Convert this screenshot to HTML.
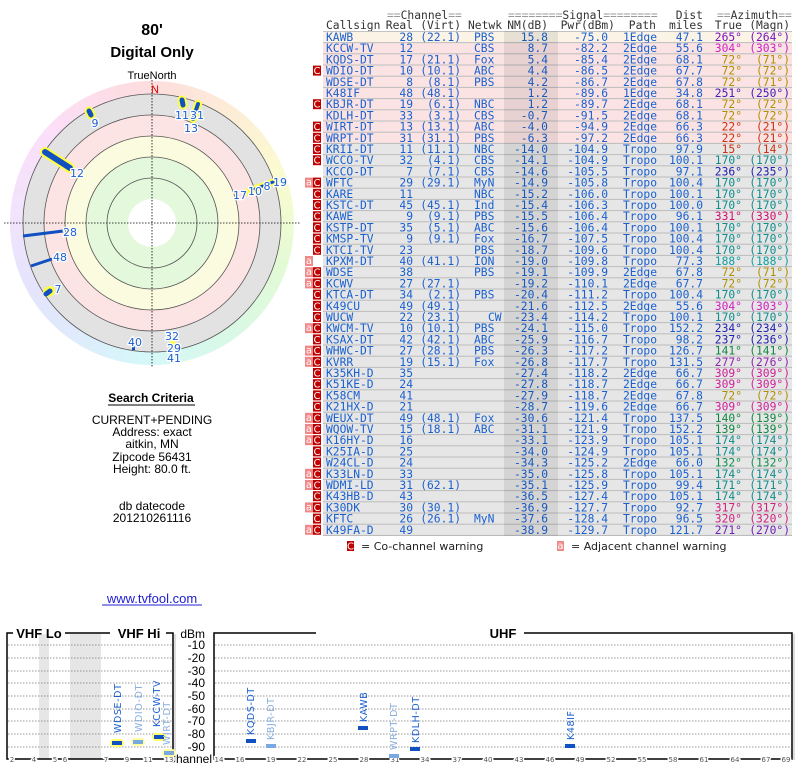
<!DOCTYPE html>
<html><head><meta charset="utf-8"><style>
body{margin:0;background:#fff;width:800px;height:768px;overflow:hidden;position:relative}
#cg{position:absolute;left:10px;top:81px;width:284px;height:284px;border-radius:50%;
background:conic-gradient(hsl(0,90%,93%),hsl(30,90%,92%) 30deg,hsl(60,85%,90%) 70deg,hsl(100,80%,91%) 110deg,hsl(150,70%,91%) 150deg,hsl(185,80%,91%) 185deg,hsl(215,80%,93%) 215deg,hsl(245,80%,94%) 245deg,hsl(275,80%,94%) 275deg,hsl(305,80%,93%) 310deg,hsl(340,90%,93%) 340deg,hsl(360,90%,93%))}
svg{position:absolute;left:0;top:0}
.m{font-family:"DejaVu Sans Mono","Liberation Mono",monospace;font-size:11.3px;fill:#1a60d0}
.s{font-family:"Liberation Sans",sans-serif}
.h{fill:#333}.g{fill:#999}
.c0{fill:#7a10c0}.c1{fill:#d020c0}.c2{fill:#b09000}.c3{fill:#4020b8}.c4{fill:#d03010}.c5{fill:#108c8c}.c6{fill:#2020b0}.c7{fill:#d01070}.c8{fill:#10a0a0}.c9{fill:#108840}.c10{fill:#9020b0}.c11{fill:#d02098}.c12{fill:#109050}.c13{fill:#d02080}.c14{fill:#7020b8}
.rp{fill:#fbe3e3}.rg{fill:#e6e6e6}.ry{fill:#fbf3e6}
.wc{fill:#c00000}.wa{fill:#f08a8a}
.wt{font-family:"DejaVu Sans",sans-serif;font-size:10px;fill:#fff}
.tk{font-family:"DejaVu Sans",sans-serif;font-size:7px;fill:#555;stroke:#fff;stroke-width:3px;paint-order:stroke}
.bl{font-family:"DejaVu Sans",sans-serif;font-size:9.5px;letter-spacing:0.6px}
.pl{font-family:"DejaVu Sans",sans-serif;font-size:11px;fill:#1a60d0;stroke:#fff;stroke-width:2.5px;paint-order:stroke}
</style></head><body>
<div id="cg"></div>
<svg width="800" height="768" viewBox="0 0 800 768">
<text x="152" y="35" text-anchor="middle" class="s" font-size="16" font-weight="bold">80'</text>
<text x="152" y="57" text-anchor="middle" class="s" font-size="15" font-weight="bold">Digital Only</text>
<text x="152" y="79" text-anchor="middle" class="s" font-size="11">TrueNorth</text>
<circle cx="152" cy="223" r="129" fill="#e2e2e2" stroke="#555" stroke-width="0.8"/>
<circle cx="152" cy="223" r="108" fill="#fde4e4" stroke="#555" stroke-width="0.8"/>
<circle cx="152" cy="223" r="87" fill="#fbfbe0" stroke="#555" stroke-width="0.8"/>
<circle cx="152" cy="223" r="66" fill="#e4f8dc" stroke="#555" stroke-width="0.8"/>
<circle cx="152" cy="223" r="45" fill="#e4f8dc" stroke="#555" stroke-width="0.8"/>
<circle cx="152" cy="223" r="24" fill="#fff"/>
<line x1="4" y1="223" x2="300" y2="223" stroke="#000" stroke-width="0.8" stroke-dasharray="1.5,1.5"/>
<line x1="152" y1="80" x2="152" y2="367" stroke="#000" stroke-width="0.8" stroke-dasharray="1.5,1.5"/>
<text x="155" y="93" text-anchor="middle" class="s" font-size="11" fill="#d00000">N</text>
<g stroke-linecap="round">
<line x1="89" y1="111" x2="91" y2="115" stroke="#ffff40" stroke-width="9"/>
<line x1="89" y1="111" x2="91" y2="115" stroke="#1050c0" stroke-width="5"/>
<line x1="182" y1="100" x2="183" y2="105" stroke="#ffff40" stroke-width="9"/>
<line x1="182" y1="100" x2="183" y2="105" stroke="#1050c0" stroke-width="5"/>
<line x1="198" y1="104" x2="193" y2="119" stroke="#ffff40" stroke-width="8"/>
<line x1="198" y1="104" x2="193" y2="119" stroke="#1050c0" stroke-width="4"/>
<line x1="45" y1="152" x2="70" y2="168" stroke="#ffff40" stroke-width="10"/>
<line x1="45" y1="152" x2="70" y2="168" stroke="#1050c0" stroke-width="6"/>
<line x1="247" y1="192" x2="273" y2="182" stroke="#ffff40" stroke-width="7"/>
<line x1="255" y1="189" x2="273" y2="182" stroke="#1050c0" stroke-width="3"/>
<line x1="48" y1="292" x2="50" y2="291" stroke="#ffff40" stroke-width="10"/>
<line x1="46" y1="294" x2="50" y2="291" stroke="#1050c0" stroke-width="5"/>
<line x1="172" y1="343" x2="173" y2="343" stroke="#ffff40" stroke-width="5"/>
</g>
<line x1="23" y1="236" x2="63" y2="231" stroke="#1050c0" stroke-width="3"/>
<line x1="31" y1="266" x2="52" y2="259" stroke="#1050c0" stroke-width="3"/>
<rect x="132" y="346" width="3" height="4" fill="#1050c0"/>
<text x="95" y="127" class="pl" text-anchor="middle">9</text>
<text x="182" y="119" class="pl" text-anchor="middle">11</text>
<text x="197" y="119" class="pl" text-anchor="middle">31</text>
<text x="191" y="132" class="pl" text-anchor="middle">13</text>
<text x="77" y="177" class="pl" text-anchor="middle">12</text>
<text x="240" y="199" class="pl" text-anchor="middle">17</text>
<text x="255" y="195" class="pl" text-anchor="middle">10</text>
<text x="267" y="190" class="pl" text-anchor="middle">8</text>
<text x="280" y="186" class="pl" text-anchor="middle">19</text>
<text x="70" y="236" class="pl" text-anchor="middle">28</text>
<text x="60" y="261" class="pl" text-anchor="middle">48</text>
<text x="58" y="293" class="pl" text-anchor="middle">7</text>
<text x="135" y="346" class="pl" text-anchor="middle">40</text>
<text x="172" y="340" class="pl" text-anchor="middle">32</text>
<text x="174" y="352" class="pl" text-anchor="middle">29</text>
<text x="174" y="362" class="pl" text-anchor="middle">41</text>
<text x="151" y="402" text-anchor="middle" class="s" font-size="12" font-weight="bold">Search Criteria</text>
<line x1="108" y1="405" x2="195" y2="405" stroke="#000" stroke-width="1"/>
<g class="s" font-size="12" text-anchor="middle">
<text x="152" y="424">CURRENT+PENDING</text>
<text x="152" y="436">Address: exact</text>
<text x="152" y="448">aitkin, MN</text>
<text x="152" y="461">Zipcode 56431</text>
<text x="152" y="473">Height: 80.0 ft.</text>
<text x="152" y="510">db datecode</text>
<text x="152" y="522">201210261116</text>
</g>
<text x="152" y="603" text-anchor="middle" class="s" font-size="13" fill="#2020d0">www.tvfool.com</text>
<line x1="102" y1="605" x2="202" y2="605" stroke="#2020d0" stroke-width="1"/>

<g class="m">
<text y="19"><tspan x="387" class="g">==</tspan><tspan class="h">Channel</tspan><tspan class="g">==</tspan></text>
<text y="19"><tspan x="508" class="g">========</tspan><tspan class="h">Signal</tspan><tspan class="g">========</tspan></text>
<text y="19" x="703" text-anchor="end" class="h">Dist</text>
<text y="19"><tspan x="717" class="g">==</tspan><tspan class="h">Azimuth</tspan><tspan class="g">==</tspan></text>
<text y="29" class="h"><tspan x="326">Callsign</tspan><tspan x="413" text-anchor="end">Real</tspan><tspan x="461" text-anchor="end">(Virt)</tspan><tspan x="468">Netwk</tspan><tspan x="548" text-anchor="end">NM(dB)</tspan><tspan x="615" text-anchor="end">Pwr(dBm)</tspan><tspan x="656" text-anchor="end">Path</tspan><tspan x="703" text-anchor="end">miles</tspan><tspan x="742" text-anchor="end">True</tspan><tspan x="790" text-anchor="end">(Magn)</tspan></text>
</g>
<rect x="323" y="31" width="469" height="505" fill="#bcbcbc"/>
<g class="m" id="rows">
<g transform="translate(0,37)"><rect x="323" y="-5.1" width="469" height="10.2" class="ry"/><text y="4"><tspan x="326">KAWB</tspan><tspan x="413" text-anchor="end">28</tspan><tspan x="461" text-anchor="end">(22.1)</tspan><tspan x="474">PBS</tspan><tspan x="548" text-anchor="end">15.8</tspan><tspan x="608" text-anchor="end">-75.0</tspan><tspan x="623">1Edge</tspan><tspan x="703" text-anchor="end">47.1</tspan><tspan x="742" text-anchor="end" class="c0">265°</tspan><tspan x="790" text-anchor="end" class="c0">(264°)</tspan></text></g>
<g transform="translate(0,48.2)"><rect x="323" y="-5.1" width="469" height="10.2" class="rp"/><text y="4"><tspan x="326">KCCW-TV</tspan><tspan x="413" text-anchor="end">12</tspan><tspan x="474">CBS</tspan><tspan x="548" text-anchor="end">8.7</tspan><tspan x="608" text-anchor="end">-82.2</tspan><tspan x="623">2Edge</tspan><tspan x="703" text-anchor="end">55.6</tspan><tspan x="742" text-anchor="end" class="c1">304°</tspan><tspan x="790" text-anchor="end" class="c1">(303°)</tspan></text></g>
<g transform="translate(0,59.4)"><rect x="323" y="-5.1" width="469" height="10.2" class="rp"/><text y="4"><tspan x="326">KQDS-DT</tspan><tspan x="413" text-anchor="end">17</tspan><tspan x="461" text-anchor="end">(21.1)</tspan><tspan x="474">Fox</tspan><tspan x="548" text-anchor="end">5.4</tspan><tspan x="608" text-anchor="end">-85.4</tspan><tspan x="623">2Edge</tspan><tspan x="703" text-anchor="end">68.1</tspan><tspan x="742" text-anchor="end" class="c2">72°</tspan><tspan x="790" text-anchor="end" class="c2">(71°)</tspan></text></g>
<g transform="translate(0,70.6)"><rect x="323" y="-5.1" width="469" height="10.2" class="rp"/><rect x="313" y="-5" width="8" height="10" class="wc"/><text x="317" y="3.5" class="wt" text-anchor="middle">C</text><text y="4"><tspan x="326">WDIO-DT</tspan><tspan x="413" text-anchor="end">10</tspan><tspan x="461" text-anchor="end">(10.1)</tspan><tspan x="474">ABC</tspan><tspan x="548" text-anchor="end">4.4</tspan><tspan x="608" text-anchor="end">-86.5</tspan><tspan x="623">2Edge</tspan><tspan x="703" text-anchor="end">67.7</tspan><tspan x="742" text-anchor="end" class="c2">72°</tspan><tspan x="790" text-anchor="end" class="c2">(72°)</tspan></text></g>
<g transform="translate(0,81.8)"><rect x="323" y="-5.1" width="469" height="10.2" class="rp"/><text y="4"><tspan x="326">WDSE-DT</tspan><tspan x="413" text-anchor="end">8</tspan><tspan x="461" text-anchor="end">(8.1)</tspan><tspan x="474">PBS</tspan><tspan x="548" text-anchor="end">4.2</tspan><tspan x="608" text-anchor="end">-86.7</tspan><tspan x="623">2Edge</tspan><tspan x="703" text-anchor="end">67.8</tspan><tspan x="742" text-anchor="end" class="c2">72°</tspan><tspan x="790" text-anchor="end" class="c2">(71°)</tspan></text></g>
<g transform="translate(0,93)"><rect x="323" y="-5.1" width="469" height="10.2" class="rp"/><text y="4"><tspan x="326">K48IF</tspan><tspan x="413" text-anchor="end">48</tspan><tspan x="461" text-anchor="end">(48.1)</tspan><tspan x="548" text-anchor="end">1.2</tspan><tspan x="608" text-anchor="end">-89.6</tspan><tspan x="623">1Edge</tspan><tspan x="703" text-anchor="end">34.8</tspan><tspan x="742" text-anchor="end" class="c3">251°</tspan><tspan x="790" text-anchor="end" class="c3">(250°)</tspan></text></g>
<g transform="translate(0,104.2)"><rect x="323" y="-5.1" width="469" height="10.2" class="rp"/><rect x="313" y="-5" width="8" height="10" class="wc"/><text x="317" y="3.5" class="wt" text-anchor="middle">C</text><text y="4"><tspan x="326">KBJR-DT</tspan><tspan x="413" text-anchor="end">19</tspan><tspan x="461" text-anchor="end">(6.1)</tspan><tspan x="474">NBC</tspan><tspan x="548" text-anchor="end">1.2</tspan><tspan x="608" text-anchor="end">-89.7</tspan><tspan x="623">2Edge</tspan><tspan x="703" text-anchor="end">68.1</tspan><tspan x="742" text-anchor="end" class="c2">72°</tspan><tspan x="790" text-anchor="end" class="c2">(72°)</tspan></text></g>
<g transform="translate(0,115.4)"><rect x="323" y="-5.1" width="469" height="10.2" class="rp"/><text y="4"><tspan x="326">KDLH-DT</tspan><tspan x="413" text-anchor="end">33</tspan><tspan x="461" text-anchor="end">(3.1)</tspan><tspan x="474">CBS</tspan><tspan x="548" text-anchor="end">-0.7</tspan><tspan x="608" text-anchor="end">-91.5</tspan><tspan x="623">2Edge</tspan><tspan x="703" text-anchor="end">68.1</tspan><tspan x="742" text-anchor="end" class="c2">72°</tspan><tspan x="790" text-anchor="end" class="c2">(72°)</tspan></text></g>
<g transform="translate(0,126.6)"><rect x="323" y="-5.1" width="469" height="10.2" class="rp"/><rect x="313" y="-5" width="8" height="10" class="wc"/><text x="317" y="3.5" class="wt" text-anchor="middle">C</text><text y="4"><tspan x="326">WIRT-DT</tspan><tspan x="413" text-anchor="end">13</tspan><tspan x="461" text-anchor="end">(13.1)</tspan><tspan x="474">ABC</tspan><tspan x="548" text-anchor="end">-4.0</tspan><tspan x="608" text-anchor="end">-94.9</tspan><tspan x="623">2Edge</tspan><tspan x="703" text-anchor="end">66.3</tspan><tspan x="742" text-anchor="end" class="c4">22°</tspan><tspan x="790" text-anchor="end" class="c4">(21°)</tspan></text></g>
<g transform="translate(0,137.8)"><rect x="323" y="-5.1" width="469" height="10.2" class="rp"/><rect x="313" y="-5" width="8" height="10" class="wc"/><text x="317" y="3.5" class="wt" text-anchor="middle">C</text><text y="4"><tspan x="326">WRPT-DT</tspan><tspan x="413" text-anchor="end">31</tspan><tspan x="461" text-anchor="end">(31.1)</tspan><tspan x="474">PBS</tspan><tspan x="548" text-anchor="end">-6.3</tspan><tspan x="608" text-anchor="end">-97.2</tspan><tspan x="623">2Edge</tspan><tspan x="703" text-anchor="end">66.3</tspan><tspan x="742" text-anchor="end" class="c4">22°</tspan><tspan x="790" text-anchor="end" class="c4">(21°)</tspan></text></g>
<g transform="translate(0,149)"><rect x="323" y="-5.1" width="469" height="10.2" class="rg"/><rect x="313" y="-5" width="8" height="10" class="wc"/><text x="317" y="3.5" class="wt" text-anchor="middle">C</text><text y="4"><tspan x="326">KRII-DT</tspan><tspan x="413" text-anchor="end">11</tspan><tspan x="461" text-anchor="end">(11.1)</tspan><tspan x="474">NBC</tspan><tspan x="548" text-anchor="end">-14.0</tspan><tspan x="608" text-anchor="end">-104.9</tspan><tspan x="623">Tropo</tspan><tspan x="703" text-anchor="end">97.9</tspan><tspan x="742" text-anchor="end" class="c4">15°</tspan><tspan x="790" text-anchor="end" class="c4">(14°)</tspan></text></g>
<g transform="translate(0,160.2)"><rect x="323" y="-5.1" width="469" height="10.2" class="rg"/><rect x="313" y="-5" width="8" height="10" class="wc"/><text x="317" y="3.5" class="wt" text-anchor="middle">C</text><text y="4"><tspan x="326">WCCO-TV</tspan><tspan x="413" text-anchor="end">32</tspan><tspan x="461" text-anchor="end">(4.1)</tspan><tspan x="474">CBS</tspan><tspan x="548" text-anchor="end">-14.1</tspan><tspan x="608" text-anchor="end">-104.9</tspan><tspan x="623">Tropo</tspan><tspan x="703" text-anchor="end">100.1</tspan><tspan x="742" text-anchor="end" class="c5">170°</tspan><tspan x="790" text-anchor="end" class="c5">(170°)</tspan></text></g>
<g transform="translate(0,171.4)"><rect x="323" y="-5.1" width="469" height="10.2" class="rg"/><text y="4"><tspan x="326">KCCO-DT</tspan><tspan x="413" text-anchor="end">7</tspan><tspan x="461" text-anchor="end">(7.1)</tspan><tspan x="474">CBS</tspan><tspan x="548" text-anchor="end">-14.6</tspan><tspan x="608" text-anchor="end">-105.5</tspan><tspan x="623">Tropo</tspan><tspan x="703" text-anchor="end">97.1</tspan><tspan x="742" text-anchor="end" class="c6">236°</tspan><tspan x="790" text-anchor="end" class="c6">(235°)</tspan></text></g>
<g transform="translate(0,182.6)"><rect x="323" y="-5.1" width="469" height="10.2" class="rg"/><rect x="305" y="-5" width="8" height="10" class="wa"/><text x="309" y="3" class="wt" text-anchor="middle">a</text><rect x="313" y="-5" width="8" height="10" class="wc"/><text x="317" y="3.5" class="wt" text-anchor="middle">C</text><text y="4"><tspan x="326">WFTC</tspan><tspan x="413" text-anchor="end">29</tspan><tspan x="461" text-anchor="end">(29.1)</tspan><tspan x="474">MyN</tspan><tspan x="548" text-anchor="end">-14.9</tspan><tspan x="608" text-anchor="end">-105.8</tspan><tspan x="623">Tropo</tspan><tspan x="703" text-anchor="end">100.4</tspan><tspan x="742" text-anchor="end" class="c5">170°</tspan><tspan x="790" text-anchor="end" class="c5">(170°)</tspan></text></g>
<g transform="translate(0,193.8)"><rect x="323" y="-5.1" width="469" height="10.2" class="rg"/><rect x="313" y="-5" width="8" height="10" class="wc"/><text x="317" y="3.5" class="wt" text-anchor="middle">C</text><text y="4"><tspan x="326">KARE</tspan><tspan x="413" text-anchor="end">11</tspan><tspan x="474">NBC</tspan><tspan x="548" text-anchor="end">-15.2</tspan><tspan x="608" text-anchor="end">-106.0</tspan><tspan x="623">Tropo</tspan><tspan x="703" text-anchor="end">100.1</tspan><tspan x="742" text-anchor="end" class="c5">170°</tspan><tspan x="790" text-anchor="end" class="c5">(170°)</tspan></text></g>
<g transform="translate(0,205)"><rect x="323" y="-5.1" width="469" height="10.2" class="rg"/><rect x="313" y="-5" width="8" height="10" class="wc"/><text x="317" y="3.5" class="wt" text-anchor="middle">C</text><text y="4"><tspan x="326">KSTC-DT</tspan><tspan x="413" text-anchor="end">45</tspan><tspan x="461" text-anchor="end">(45.1)</tspan><tspan x="474">Ind</tspan><tspan x="548" text-anchor="end">-15.4</tspan><tspan x="608" text-anchor="end">-106.3</tspan><tspan x="623">Tropo</tspan><tspan x="703" text-anchor="end">100.0</tspan><tspan x="742" text-anchor="end" class="c5">170°</tspan><tspan x="790" text-anchor="end" class="c5">(170°)</tspan></text></g>
<g transform="translate(0,216.2)"><rect x="323" y="-5.1" width="469" height="10.2" class="rg"/><rect x="313" y="-5" width="8" height="10" class="wc"/><text x="317" y="3.5" class="wt" text-anchor="middle">C</text><text y="4"><tspan x="326">KAWE</tspan><tspan x="413" text-anchor="end">9</tspan><tspan x="461" text-anchor="end">(9.1)</tspan><tspan x="474">PBS</tspan><tspan x="548" text-anchor="end">-15.5</tspan><tspan x="608" text-anchor="end">-106.4</tspan><tspan x="623">Tropo</tspan><tspan x="703" text-anchor="end">96.1</tspan><tspan x="742" text-anchor="end" class="c7">331°</tspan><tspan x="790" text-anchor="end" class="c7">(330°)</tspan></text></g>
<g transform="translate(0,227.4)"><rect x="323" y="-5.1" width="469" height="10.2" class="rg"/><rect x="313" y="-5" width="8" height="10" class="wc"/><text x="317" y="3.5" class="wt" text-anchor="middle">C</text><text y="4"><tspan x="326">KSTP-DT</tspan><tspan x="413" text-anchor="end">35</tspan><tspan x="461" text-anchor="end">(5.1)</tspan><tspan x="474">ABC</tspan><tspan x="548" text-anchor="end">-15.6</tspan><tspan x="608" text-anchor="end">-106.4</tspan><tspan x="623">Tropo</tspan><tspan x="703" text-anchor="end">100.1</tspan><tspan x="742" text-anchor="end" class="c5">170°</tspan><tspan x="790" text-anchor="end" class="c5">(170°)</tspan></text></g>
<g transform="translate(0,238.6)"><rect x="323" y="-5.1" width="469" height="10.2" class="rg"/><rect x="313" y="-5" width="8" height="10" class="wc"/><text x="317" y="3.5" class="wt" text-anchor="middle">C</text><text y="4"><tspan x="326">KMSP-TV</tspan><tspan x="413" text-anchor="end">9</tspan><tspan x="461" text-anchor="end">(9.1)</tspan><tspan x="474">Fox</tspan><tspan x="548" text-anchor="end">-16.7</tspan><tspan x="608" text-anchor="end">-107.5</tspan><tspan x="623">Tropo</tspan><tspan x="703" text-anchor="end">100.4</tspan><tspan x="742" text-anchor="end" class="c5">170°</tspan><tspan x="790" text-anchor="end" class="c5">(170°)</tspan></text></g>
<g transform="translate(0,249.8)"><rect x="323" y="-5.1" width="469" height="10.2" class="rg"/><rect x="313" y="-5" width="8" height="10" class="wc"/><text x="317" y="3.5" class="wt" text-anchor="middle">C</text><text y="4"><tspan x="326">KTCI-TV</tspan><tspan x="413" text-anchor="end">23</tspan><tspan x="474">PBS</tspan><tspan x="548" text-anchor="end">-18.7</tspan><tspan x="608" text-anchor="end">-109.6</tspan><tspan x="623">Tropo</tspan><tspan x="703" text-anchor="end">100.4</tspan><tspan x="742" text-anchor="end" class="c5">170°</tspan><tspan x="790" text-anchor="end" class="c5">(170°)</tspan></text></g>
<g transform="translate(0,261)"><rect x="323" y="-5.1" width="469" height="10.2" class="rg"/><rect x="305" y="-5" width="8" height="10" class="wa"/><text x="309" y="3" class="wt" text-anchor="middle">a</text><text y="4"><tspan x="326">KPXM-DT</tspan><tspan x="413" text-anchor="end">40</tspan><tspan x="461" text-anchor="end">(41.1)</tspan><tspan x="474">ION</tspan><tspan x="548" text-anchor="end">-19.0</tspan><tspan x="608" text-anchor="end">-109.8</tspan><tspan x="623">Tropo</tspan><tspan x="703" text-anchor="end">77.3</tspan><tspan x="742" text-anchor="end" class="c8">188°</tspan><tspan x="790" text-anchor="end" class="c8">(188°)</tspan></text></g>
<g transform="translate(0,272.2)"><rect x="323" y="-5.1" width="469" height="10.2" class="rg"/><rect x="305" y="-5" width="8" height="10" class="wa"/><text x="309" y="3" class="wt" text-anchor="middle">a</text><rect x="313" y="-5" width="8" height="10" class="wc"/><text x="317" y="3.5" class="wt" text-anchor="middle">C</text><text y="4"><tspan x="326">WDSE</tspan><tspan x="413" text-anchor="end">38</tspan><tspan x="474">PBS</tspan><tspan x="548" text-anchor="end">-19.1</tspan><tspan x="608" text-anchor="end">-109.9</tspan><tspan x="623">2Edge</tspan><tspan x="703" text-anchor="end">67.8</tspan><tspan x="742" text-anchor="end" class="c2">72°</tspan><tspan x="790" text-anchor="end" class="c2">(71°)</tspan></text></g>
<g transform="translate(0,283.4)"><rect x="323" y="-5.1" width="469" height="10.2" class="rg"/><rect x="305" y="-5" width="8" height="10" class="wa"/><text x="309" y="3" class="wt" text-anchor="middle">a</text><rect x="313" y="-5" width="8" height="10" class="wc"/><text x="317" y="3.5" class="wt" text-anchor="middle">C</text><text y="4"><tspan x="326">KCWV</tspan><tspan x="413" text-anchor="end">27</tspan><tspan x="461" text-anchor="end">(27.1)</tspan><tspan x="548" text-anchor="end">-19.2</tspan><tspan x="608" text-anchor="end">-110.1</tspan><tspan x="623">2Edge</tspan><tspan x="703" text-anchor="end">67.7</tspan><tspan x="742" text-anchor="end" class="c2">72°</tspan><tspan x="790" text-anchor="end" class="c2">(72°)</tspan></text></g>
<g transform="translate(0,294.6)"><rect x="323" y="-5.1" width="469" height="10.2" class="rg"/><rect x="313" y="-5" width="8" height="10" class="wc"/><text x="317" y="3.5" class="wt" text-anchor="middle">C</text><text y="4"><tspan x="326">KTCA-DT</tspan><tspan x="413" text-anchor="end">34</tspan><tspan x="461" text-anchor="end">(2.1)</tspan><tspan x="474">PBS</tspan><tspan x="548" text-anchor="end">-20.4</tspan><tspan x="608" text-anchor="end">-111.2</tspan><tspan x="623">Tropo</tspan><tspan x="703" text-anchor="end">100.4</tspan><tspan x="742" text-anchor="end" class="c5">170°</tspan><tspan x="790" text-anchor="end" class="c5">(170°)</tspan></text></g>
<g transform="translate(0,305.8)"><rect x="323" y="-5.1" width="469" height="10.2" class="rg"/><rect x="313" y="-5" width="8" height="10" class="wc"/><text x="317" y="3.5" class="wt" text-anchor="middle">C</text><text y="4"><tspan x="326">K49CU</tspan><tspan x="413" text-anchor="end">49</tspan><tspan x="461" text-anchor="end">(49.1)</tspan><tspan x="548" text-anchor="end">-21.6</tspan><tspan x="608" text-anchor="end">-112.5</tspan><tspan x="623">2Edge</tspan><tspan x="703" text-anchor="end">55.6</tspan><tspan x="742" text-anchor="end" class="c1">304°</tspan><tspan x="790" text-anchor="end" class="c1">(303°)</tspan></text></g>
<g transform="translate(0,317)"><rect x="323" y="-5.1" width="469" height="10.2" class="rg"/><rect x="313" y="-5" width="8" height="10" class="wc"/><text x="317" y="3.5" class="wt" text-anchor="middle">C</text><text y="4"><tspan x="326">WUCW</tspan><tspan x="413" text-anchor="end">22</tspan><tspan x="461" text-anchor="end">(23.1)</tspan><tspan x="488">CW</tspan><tspan x="548" text-anchor="end">-23.4</tspan><tspan x="608" text-anchor="end">-114.2</tspan><tspan x="623">Tropo</tspan><tspan x="703" text-anchor="end">100.1</tspan><tspan x="742" text-anchor="end" class="c5">170°</tspan><tspan x="790" text-anchor="end" class="c5">(170°)</tspan></text></g>
<g transform="translate(0,328.2)"><rect x="323" y="-5.1" width="469" height="10.2" class="rg"/><rect x="305" y="-5" width="8" height="10" class="wa"/><text x="309" y="3" class="wt" text-anchor="middle">a</text><rect x="313" y="-5" width="8" height="10" class="wc"/><text x="317" y="3.5" class="wt" text-anchor="middle">C</text><text y="4"><tspan x="326">KWCM-TV</tspan><tspan x="413" text-anchor="end">10</tspan><tspan x="461" text-anchor="end">(10.1)</tspan><tspan x="474">PBS</tspan><tspan x="548" text-anchor="end">-24.1</tspan><tspan x="608" text-anchor="end">-115.0</tspan><tspan x="623">Tropo</tspan><tspan x="703" text-anchor="end">152.2</tspan><tspan x="742" text-anchor="end" class="c6">234°</tspan><tspan x="790" text-anchor="end" class="c6">(234°)</tspan></text></g>
<g transform="translate(0,339.4)"><rect x="323" y="-5.1" width="469" height="10.2" class="rg"/><rect x="313" y="-5" width="8" height="10" class="wc"/><text x="317" y="3.5" class="wt" text-anchor="middle">C</text><text y="4"><tspan x="326">KSAX-DT</tspan><tspan x="413" text-anchor="end">42</tspan><tspan x="461" text-anchor="end">(42.1)</tspan><tspan x="474">ABC</tspan><tspan x="548" text-anchor="end">-25.9</tspan><tspan x="608" text-anchor="end">-116.7</tspan><tspan x="623">Tropo</tspan><tspan x="703" text-anchor="end">98.2</tspan><tspan x="742" text-anchor="end" class="c6">237°</tspan><tspan x="790" text-anchor="end" class="c6">(236°)</tspan></text></g>
<g transform="translate(0,350.6)"><rect x="323" y="-5.1" width="469" height="10.2" class="rg"/><rect x="305" y="-5" width="8" height="10" class="wa"/><text x="309" y="3" class="wt" text-anchor="middle">a</text><rect x="313" y="-5" width="8" height="10" class="wc"/><text x="317" y="3.5" class="wt" text-anchor="middle">C</text><text y="4"><tspan x="326">WHWC-DT</tspan><tspan x="413" text-anchor="end">27</tspan><tspan x="461" text-anchor="end">(28.1)</tspan><tspan x="474">PBS</tspan><tspan x="548" text-anchor="end">-26.3</tspan><tspan x="608" text-anchor="end">-117.2</tspan><tspan x="623">Tropo</tspan><tspan x="703" text-anchor="end">126.7</tspan><tspan x="742" text-anchor="end" class="c9">141°</tspan><tspan x="790" text-anchor="end" class="c9">(141°)</tspan></text></g>
<g transform="translate(0,361.8)"><rect x="323" y="-5.1" width="469" height="10.2" class="rg"/><rect x="305" y="-5" width="8" height="10" class="wa"/><text x="309" y="3" class="wt" text-anchor="middle">a</text><rect x="313" y="-5" width="8" height="10" class="wc"/><text x="317" y="3.5" class="wt" text-anchor="middle">C</text><text y="4"><tspan x="326">KVRR</tspan><tspan x="413" text-anchor="end">19</tspan><tspan x="461" text-anchor="end">(15.1)</tspan><tspan x="474">Fox</tspan><tspan x="548" text-anchor="end">-26.8</tspan><tspan x="608" text-anchor="end">-117.7</tspan><tspan x="623">Tropo</tspan><tspan x="703" text-anchor="end">131.5</tspan><tspan x="742" text-anchor="end" class="c10">277°</tspan><tspan x="790" text-anchor="end" class="c10">(276°)</tspan></text></g>
<g transform="translate(0,373)"><rect x="323" y="-5.1" width="469" height="10.2" class="rg"/><rect x="313" y="-5" width="8" height="10" class="wc"/><text x="317" y="3.5" class="wt" text-anchor="middle">C</text><text y="4"><tspan x="326">K35KH-D</tspan><tspan x="413" text-anchor="end">35</tspan><tspan x="548" text-anchor="end">-27.4</tspan><tspan x="608" text-anchor="end">-118.2</tspan><tspan x="623">2Edge</tspan><tspan x="703" text-anchor="end">66.7</tspan><tspan x="742" text-anchor="end" class="c11">309°</tspan><tspan x="790" text-anchor="end" class="c11">(309°)</tspan></text></g>
<g transform="translate(0,384.2)"><rect x="323" y="-5.1" width="469" height="10.2" class="rg"/><rect x="313" y="-5" width="8" height="10" class="wc"/><text x="317" y="3.5" class="wt" text-anchor="middle">C</text><text y="4"><tspan x="326">K51KE-D</tspan><tspan x="413" text-anchor="end">24</tspan><tspan x="548" text-anchor="end">-27.8</tspan><tspan x="608" text-anchor="end">-118.7</tspan><tspan x="623">2Edge</tspan><tspan x="703" text-anchor="end">66.7</tspan><tspan x="742" text-anchor="end" class="c11">309°</tspan><tspan x="790" text-anchor="end" class="c11">(309°)</tspan></text></g>
<g transform="translate(0,395.4)"><rect x="323" y="-5.1" width="469" height="10.2" class="rg"/><rect x="313" y="-5" width="8" height="10" class="wc"/><text x="317" y="3.5" class="wt" text-anchor="middle">C</text><text y="4"><tspan x="326">K58CM</tspan><tspan x="413" text-anchor="end">41</tspan><tspan x="548" text-anchor="end">-27.9</tspan><tspan x="608" text-anchor="end">-118.7</tspan><tspan x="623">2Edge</tspan><tspan x="703" text-anchor="end">67.8</tspan><tspan x="742" text-anchor="end" class="c2">72°</tspan><tspan x="790" text-anchor="end" class="c2">(72°)</tspan></text></g>
<g transform="translate(0,406.6)"><rect x="323" y="-5.1" width="469" height="10.2" class="rg"/><rect x="313" y="-5" width="8" height="10" class="wc"/><text x="317" y="3.5" class="wt" text-anchor="middle">C</text><text y="4"><tspan x="326">K21HX-D</tspan><tspan x="413" text-anchor="end">21</tspan><tspan x="548" text-anchor="end">-28.7</tspan><tspan x="608" text-anchor="end">-119.6</tspan><tspan x="623">2Edge</tspan><tspan x="703" text-anchor="end">66.7</tspan><tspan x="742" text-anchor="end" class="c11">309°</tspan><tspan x="790" text-anchor="end" class="c11">(309°)</tspan></text></g>
<g transform="translate(0,417.8)"><rect x="323" y="-5.1" width="469" height="10.2" class="rg"/><rect x="305" y="-5" width="8" height="10" class="wa"/><text x="309" y="3" class="wt" text-anchor="middle">a</text><rect x="313" y="-5" width="8" height="10" class="wc"/><text x="317" y="3.5" class="wt" text-anchor="middle">C</text><text y="4"><tspan x="326">WEUX-DT</tspan><tspan x="413" text-anchor="end">49</tspan><tspan x="461" text-anchor="end">(48.1)</tspan><tspan x="474">Fox</tspan><tspan x="548" text-anchor="end">-30.6</tspan><tspan x="608" text-anchor="end">-121.4</tspan><tspan x="623">Tropo</tspan><tspan x="703" text-anchor="end">137.5</tspan><tspan x="742" text-anchor="end" class="c9">140°</tspan><tspan x="790" text-anchor="end" class="c9">(139°)</tspan></text></g>
<g transform="translate(0,429)"><rect x="323" y="-5.1" width="469" height="10.2" class="rg"/><rect x="305" y="-5" width="8" height="10" class="wa"/><text x="309" y="3" class="wt" text-anchor="middle">a</text><rect x="313" y="-5" width="8" height="10" class="wc"/><text x="317" y="3.5" class="wt" text-anchor="middle">C</text><text y="4"><tspan x="326">WQOW-TV</tspan><tspan x="413" text-anchor="end">15</tspan><tspan x="461" text-anchor="end">(18.1)</tspan><tspan x="474">ABC</tspan><tspan x="548" text-anchor="end">-31.1</tspan><tspan x="608" text-anchor="end">-121.9</tspan><tspan x="623">Tropo</tspan><tspan x="703" text-anchor="end">152.2</tspan><tspan x="742" text-anchor="end" class="c9">139°</tspan><tspan x="790" text-anchor="end" class="c9">(139°)</tspan></text></g>
<g transform="translate(0,440.2)"><rect x="323" y="-5.1" width="469" height="10.2" class="rg"/><rect x="305" y="-5" width="8" height="10" class="wa"/><text x="309" y="3" class="wt" text-anchor="middle">a</text><rect x="313" y="-5" width="8" height="10" class="wc"/><text x="317" y="3.5" class="wt" text-anchor="middle">C</text><text y="4"><tspan x="326">K16HY-D</tspan><tspan x="413" text-anchor="end">16</tspan><tspan x="548" text-anchor="end">-33.1</tspan><tspan x="608" text-anchor="end">-123.9</tspan><tspan x="623">Tropo</tspan><tspan x="703" text-anchor="end">105.1</tspan><tspan x="742" text-anchor="end" class="c5">174°</tspan><tspan x="790" text-anchor="end" class="c5">(174°)</tspan></text></g>
<g transform="translate(0,451.4)"><rect x="323" y="-5.1" width="469" height="10.2" class="rg"/><rect x="313" y="-5" width="8" height="10" class="wc"/><text x="317" y="3.5" class="wt" text-anchor="middle">C</text><text y="4"><tspan x="326">K25IA-D</tspan><tspan x="413" text-anchor="end">25</tspan><tspan x="548" text-anchor="end">-34.0</tspan><tspan x="608" text-anchor="end">-124.9</tspan><tspan x="623">Tropo</tspan><tspan x="703" text-anchor="end">105.1</tspan><tspan x="742" text-anchor="end" class="c5">174°</tspan><tspan x="790" text-anchor="end" class="c5">(174°)</tspan></text></g>
<g transform="translate(0,462.6)"><rect x="323" y="-5.1" width="469" height="10.2" class="rg"/><rect x="313" y="-5" width="8" height="10" class="wc"/><text x="317" y="3.5" class="wt" text-anchor="middle">C</text><text y="4"><tspan x="326">W24CL-D</tspan><tspan x="413" text-anchor="end">24</tspan><tspan x="548" text-anchor="end">-34.3</tspan><tspan x="608" text-anchor="end">-125.2</tspan><tspan x="623">2Edge</tspan><tspan x="703" text-anchor="end">66.0</tspan><tspan x="742" text-anchor="end" class="c12">132°</tspan><tspan x="790" text-anchor="end" class="c12">(132°)</tspan></text></g>
<g transform="translate(0,473.8)"><rect x="323" y="-5.1" width="469" height="10.2" class="rg"/><rect x="305" y="-5" width="8" height="10" class="wa"/><text x="309" y="3" class="wt" text-anchor="middle">a</text><rect x="313" y="-5" width="8" height="10" class="wc"/><text x="317" y="3.5" class="wt" text-anchor="middle">C</text><text y="4"><tspan x="326">K33LN-D</tspan><tspan x="413" text-anchor="end">33</tspan><tspan x="548" text-anchor="end">-35.0</tspan><tspan x="608" text-anchor="end">-125.8</tspan><tspan x="623">Tropo</tspan><tspan x="703" text-anchor="end">105.1</tspan><tspan x="742" text-anchor="end" class="c5">174°</tspan><tspan x="790" text-anchor="end" class="c5">(174°)</tspan></text></g>
<g transform="translate(0,485)"><rect x="323" y="-5.1" width="469" height="10.2" class="rg"/><rect x="305" y="-5" width="8" height="10" class="wa"/><text x="309" y="3" class="wt" text-anchor="middle">a</text><rect x="313" y="-5" width="8" height="10" class="wc"/><text x="317" y="3.5" class="wt" text-anchor="middle">C</text><text y="4"><tspan x="326">WDMI-LD</tspan><tspan x="413" text-anchor="end">31</tspan><tspan x="461" text-anchor="end">(62.1)</tspan><tspan x="548" text-anchor="end">-35.1</tspan><tspan x="608" text-anchor="end">-125.9</tspan><tspan x="623">Tropo</tspan><tspan x="703" text-anchor="end">99.4</tspan><tspan x="742" text-anchor="end" class="c5">171°</tspan><tspan x="790" text-anchor="end" class="c5">(171°)</tspan></text></g>
<g transform="translate(0,496.2)"><rect x="323" y="-5.1" width="469" height="10.2" class="rg"/><rect x="313" y="-5" width="8" height="10" class="wc"/><text x="317" y="3.5" class="wt" text-anchor="middle">C</text><text y="4"><tspan x="326">K43HB-D</tspan><tspan x="413" text-anchor="end">43</tspan><tspan x="548" text-anchor="end">-36.5</tspan><tspan x="608" text-anchor="end">-127.4</tspan><tspan x="623">Tropo</tspan><tspan x="703" text-anchor="end">105.1</tspan><tspan x="742" text-anchor="end" class="c5">174°</tspan><tspan x="790" text-anchor="end" class="c5">(174°)</tspan></text></g>
<g transform="translate(0,507.4)"><rect x="323" y="-5.1" width="469" height="10.2" class="rg"/><rect x="305" y="-5" width="8" height="10" class="wa"/><text x="309" y="3" class="wt" text-anchor="middle">a</text><rect x="313" y="-5" width="8" height="10" class="wc"/><text x="317" y="3.5" class="wt" text-anchor="middle">C</text><text y="4"><tspan x="326">K30DK</tspan><tspan x="413" text-anchor="end">30</tspan><tspan x="461" text-anchor="end">(30.1)</tspan><tspan x="548" text-anchor="end">-36.9</tspan><tspan x="608" text-anchor="end">-127.7</tspan><tspan x="623">Tropo</tspan><tspan x="703" text-anchor="end">92.7</tspan><tspan x="742" text-anchor="end" class="c13">317°</tspan><tspan x="790" text-anchor="end" class="c13">(317°)</tspan></text></g>
<g transform="translate(0,518.6)"><rect x="323" y="-5.1" width="469" height="10.2" class="rg"/><rect x="313" y="-5" width="8" height="10" class="wc"/><text x="317" y="3.5" class="wt" text-anchor="middle">C</text><text y="4"><tspan x="326">KFTC</tspan><tspan x="413" text-anchor="end">26</tspan><tspan x="461" text-anchor="end">(26.1)</tspan><tspan x="474">MyN</tspan><tspan x="548" text-anchor="end">-37.6</tspan><tspan x="608" text-anchor="end">-128.4</tspan><tspan x="623">Tropo</tspan><tspan x="703" text-anchor="end">96.5</tspan><tspan x="742" text-anchor="end" class="c13">320°</tspan><tspan x="790" text-anchor="end" class="c13">(320°)</tspan></text></g>
<g transform="translate(0,529.8)"><rect x="323" y="-5.1" width="469" height="10.2" class="rg"/><rect x="305" y="-5" width="8" height="10" class="wa"/><text x="309" y="3" class="wt" text-anchor="middle">a</text><rect x="313" y="-5" width="8" height="10" class="wc"/><text x="317" y="3.5" class="wt" text-anchor="middle">C</text><text y="4"><tspan x="326">K49FA-D</tspan><tspan x="413" text-anchor="end">49</tspan><tspan x="548" text-anchor="end">-38.9</tspan><tspan x="608" text-anchor="end">-129.7</tspan><tspan x="623">Tropo</tspan><tspan x="703" text-anchor="end">121.7</tspan><tspan x="742" text-anchor="end" class="c14">271°</tspan><tspan x="790" text-anchor="end" class="c14">(270°)</tspan></text></g>
</g>
<rect x="504" y="31" width="54" height="505" fill="#000" opacity="0.08"/>
<rect x="347" y="541" width="7" height="10" class="wc"/><text x="350.5" y="549.5" class="wt" text-anchor="middle" font-size="9">C</text>
<text x="361" y="550" font-family="DejaVu Sans,sans-serif" font-size="11" fill="#222">= Co-channel warning</text>
<rect x="557" y="541" width="7" height="10" class="wa"/><text x="560.5" y="549" class="wt" text-anchor="middle" font-size="9">a</text>
<text x="571" y="550" font-family="DejaVu Sans,sans-serif" font-size="11" fill="#222">= Adjacent channel warning</text>

<rect x="39" y="634" width="10" height="125" fill="#e6e6e6"/>
<rect x="70" y="634" width="31" height="125" fill="#e6e6e6"/>
<g stroke="#777" stroke-width="0.8" stroke-dasharray="1.5,1.5">
<line x1="8" y1="645" x2="173" y2="645"/><line x1="8" y1="658" x2="173" y2="658"/><line x1="8" y1="671" x2="173" y2="671"/><line x1="8" y1="683" x2="173" y2="683"/><line x1="8" y1="696" x2="173" y2="696"/><line x1="8" y1="709" x2="173" y2="709"/><line x1="8" y1="721" x2="173" y2="721"/><line x1="8" y1="734" x2="173" y2="734"/><line x1="8" y1="747" x2="173" y2="747"/>
<line x1="215" y1="645" x2="791" y2="645"/><line x1="215" y1="658" x2="791" y2="658"/><line x1="215" y1="671" x2="791" y2="671"/><line x1="215" y1="683" x2="791" y2="683"/><line x1="215" y1="696" x2="791" y2="696"/><line x1="215" y1="709" x2="791" y2="709"/><line x1="215" y1="721" x2="791" y2="721"/><line x1="215" y1="734" x2="791" y2="734"/><line x1="215" y1="747" x2="791" y2="747"/>
</g>
<g stroke="#000" stroke-width="1.5" fill="none">
<polyline points="13,633 7,633 7,759 173,759 173,633 166,633"/>
<line x1="65" y1="633" x2="110" y2="633"/>
<polyline points="316,633 214,633 214,759 792,759 792,633 524,633"/>
</g>
<g stroke="#bbb" stroke-width="1" fill="none">
<line x1="175" y1="634" x2="175" y2="760"/><line x1="794" y1="634" x2="794" y2="760"/>
</g>
<g class="s" font-weight="bold" font-size="13">
<text x="39" y="638" text-anchor="middle">VHF Lo</text>
<text x="139" y="638" text-anchor="middle">VHF Hi</text>
<text x="503" y="638" text-anchor="middle">UHF</text>
</g>
<g class="s" font-size="12" text-anchor="end">
<text x="205" y="638">dBm</text>
<text x="205" y="649">-10</text><text x="205" y="662">-20</text><text x="205" y="675">-30</text><text x="205" y="687">-40</text><text x="205" y="700">-50</text><text x="205" y="713">-60</text><text x="205" y="725">-70</text><text x="205" y="738">-80</text><text x="205" y="751">-90</text>
<text x="212" y="763">Channel</text>
</g>
<g class="tk" text-anchor="middle">
<text x="12" y="762">2</text><text x="34" y="762">4</text><text x="55" y="762">5</text><text x="65" y="762">6</text><text x="106" y="762">7</text><text x="127" y="762">9</text><text x="148" y="762">11</text><text x="169" y="762">13</text>
<text x="219" y="762">14</text><text x="240" y="762">16</text><text x="271" y="762">19</text><text x="302" y="762">22</text><text x="333" y="762">25</text><text x="364" y="762">28</text><text x="395" y="762">31</text><text x="425" y="762">34</text><text x="457" y="762">37</text><text x="488" y="762">40</text><text x="519" y="762">43</text><text x="550" y="762">46</text><text x="580" y="762">49</text><text x="611" y="762">52</text><text x="642" y="762">55</text><text x="673" y="762">58</text><text x="704" y="762">61</text><text x="735" y="762">64</text><text x="766" y="762">67</text><text x="786" y="762">69</text>
</g>
<rect x="110" y="739" width="14" height="8" rx="4" fill="#ffff70"/><rect x="112" y="741" width="10" height="4" fill="#1050c0"/>
<rect x="131" y="738" width="14" height="8" rx="4" fill="#ffffa0"/><rect x="133" y="740" width="10" height="4" fill="#7aa8e0"/>
<rect x="152" y="733" width="14" height="8" rx="4" fill="#ffff70"/><rect x="154" y="735" width="10" height="4" fill="#1050c0"/>
<rect x="162" y="749" width="14" height="8" rx="4" fill="#ffffa0"/><rect x="164" y="751" width="10" height="4" fill="#7aa8e0"/>
<rect x="246" y="739" width="10" height="4" fill="#1050c0"/>
<rect x="266" y="744" width="10" height="4" fill="#7aa8e0"/>
<rect x="358" y="726" width="10" height="4" fill="#1050c0"/>
<rect x="389" y="754" width="10" height="4" fill="#7aa8e0"/>
<rect x="410" y="747" width="10" height="4" fill="#1050c0"/>
<rect x="565" y="744" width="10" height="4" fill="#1050c0"/>
<g class="bl">
<text transform="translate(121,733) rotate(-90)" fill="#1a60d0">WDSE-DT</text>
<text transform="translate(142,732) rotate(-90)" fill="#8ab0e0">WDIO-DT</text>
<text transform="translate(160,727) rotate(-90)" fill="#1a60d0">KCCW-TV</text>
<text transform="translate(170,745) rotate(-90)" fill="#8ab0e0">WIRT-DT</text>
<text transform="translate(254,735) rotate(-90)" fill="#1a60d0">KQDS-DT</text>
<text transform="translate(274,740) rotate(-90)" fill="#8ab0e0">KBJR-DT</text>
<text transform="translate(367,722) rotate(-90)" fill="#1a60d0">KAWB</text>
<text transform="translate(397,750) rotate(-90)" fill="#8ab0e0">WRPT-DT</text>
<text transform="translate(419,743) rotate(-90)" fill="#1a60d0">KDLH-DT</text>
<text transform="translate(574,740) rotate(-90)" fill="#1a60d0">K48IF</text>
</g>
</svg>
</body></html>
